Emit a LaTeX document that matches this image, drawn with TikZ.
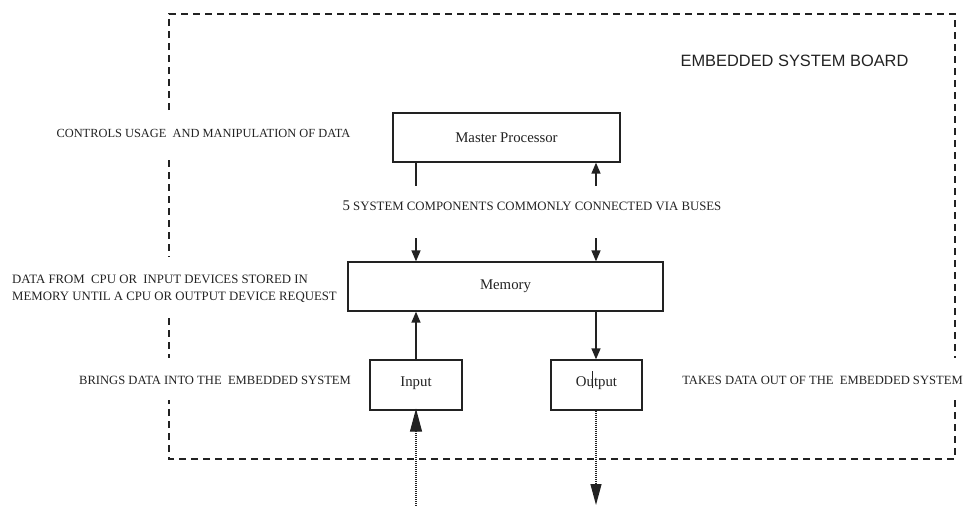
\documentclass[tikz,border=0pt]{standalone}
\usepackage{fontspec}
\setmainfont{Liberation Serif}
\newfontfamily\boardfont{Liberation Sans}
\usetikzlibrary{arrows.meta}
\definecolor{ink}{HTML}{222222}

\begin{document}
\begin{tikzpicture}[x=1pt,y=-1pt,
  every node/.style={text=ink},
  unit/.style={draw=ink, line width=1.3pt, inner sep=0pt,
    font=\fontsize{14.8}{17}\selectfont},
  note/.style={inner sep=0pt, font=\fontsize{12.6}{17}\selectfont},
  plainbus/.style={draw=ink, line width=1.5pt},
  bus/.style={plainbus, -{Triangle[length=11pt,width=9pt]}},
  ioline/.style={draw=ink, line width=1.2pt, dash pattern=on 1pt off 1pt},
  board/.style={draw=ink, line width=1.6pt, dash pattern=on 7pt off 5pt}]

\useasboundingbox (0,0) rectangle (964,506);

% board outline, opened where the side notes cross it
\draw[board] (169,110) -- (169,14) -- (955,14) -- (955,358);
\draw[board] (955,400) -- (955,459) -- (169,459) -- (169,400);
\draw[board] (169,160) -- (169,257);
\draw[board] (169,318) -- (169,358);

\node[inner sep=0pt, font=\boardfont\fontsize{16.4}{19}\selectfont] (boardlabel)
  at (794.5,61) {EMBEDDED SYSTEM BOARD};

% components
\node[unit, minimum width=227pt, minimum height=49pt] (mp) at (506.5,137.5) {Master Processor};
\node[unit, minimum width=315pt, minimum height=49pt] (mem) at (505.5,286.5) {Memory};
\node[unit, minimum width=92pt, minimum height=50pt] (in) at (416,385) {\raisebox{6pt}{Input}};
\node[unit, minimum width=91pt, minimum height=50pt] (out) at (596.5,385) {\raisebox{6pt}{Output}};
\draw[draw=ink, line width=0.9pt] (592,371) -- (592,388);

% buses between processor and memory
\coordinate (busL1) at (416,186);
\coordinate (busL2) at (416,238);
\coordinate (busR1) at (596,186);
\coordinate (busR2) at (596,238);
\draw[plainbus] (mp.south -| busL1) -- (busL1);
\draw[bus] (busR1) -- (mp.south -| busR1);
\draw[bus] (busL2) -- (mem.north -| busL2);
\draw[bus] (busR2) -- (mem.north -| busR2);

% memory to input / output
\draw[bus] (in.north) -- (mem.south -| in.north);
\draw[bus] (mem.south -| busR2) -- (out.north -| busR2);

% external data paths
\coordinate (src) at (416,506);
\coordinate (sink) at (596,505);
\draw[ioline, -{Triangle[length=23pt,width=12pt]}] (src) -- ([yshift=2pt]in.south);
\draw[ioline, -{Triangle[length=21pt,width=11pt]}] (out.south -| sink) -- (sink);

% notes
\node[note, font=\fontsize{12.4}{17}\selectfont] (ctlnote) at (203.5,133)
  {CONTROLS USAGE\ \ AND MANIPULATION OF DATA};
\node[note, font=\fontsize{12.8}{17}\selectfont] (busnote) at (532,206)
  {{\fontsize{14.8}{17}\selectfont 5} SYSTEM COMPONENTS COMMONLY CONNECTED VIA BUSES};
\node[note, anchor=west, align=left, font=\fontsize{12.8}{17}\selectfont] (memnote) at (12,288.5)
  {DATA FROM\ \ CPU OR\ \ INPUT DEVICES STORED IN\\MEMORY UNTIL A CPU OR OUTPUT DEVICE REQUEST};
\node[note] (innote) at (215,380) {BRINGS DATA INTO THE\ \ EMBEDDED SYSTEM};
\node[note] (outnote) at (822.5,380) {TAKES DATA OUT OF THE\ \ EMBEDDED SYSTEM};

\end{tikzpicture}
\end{document}
